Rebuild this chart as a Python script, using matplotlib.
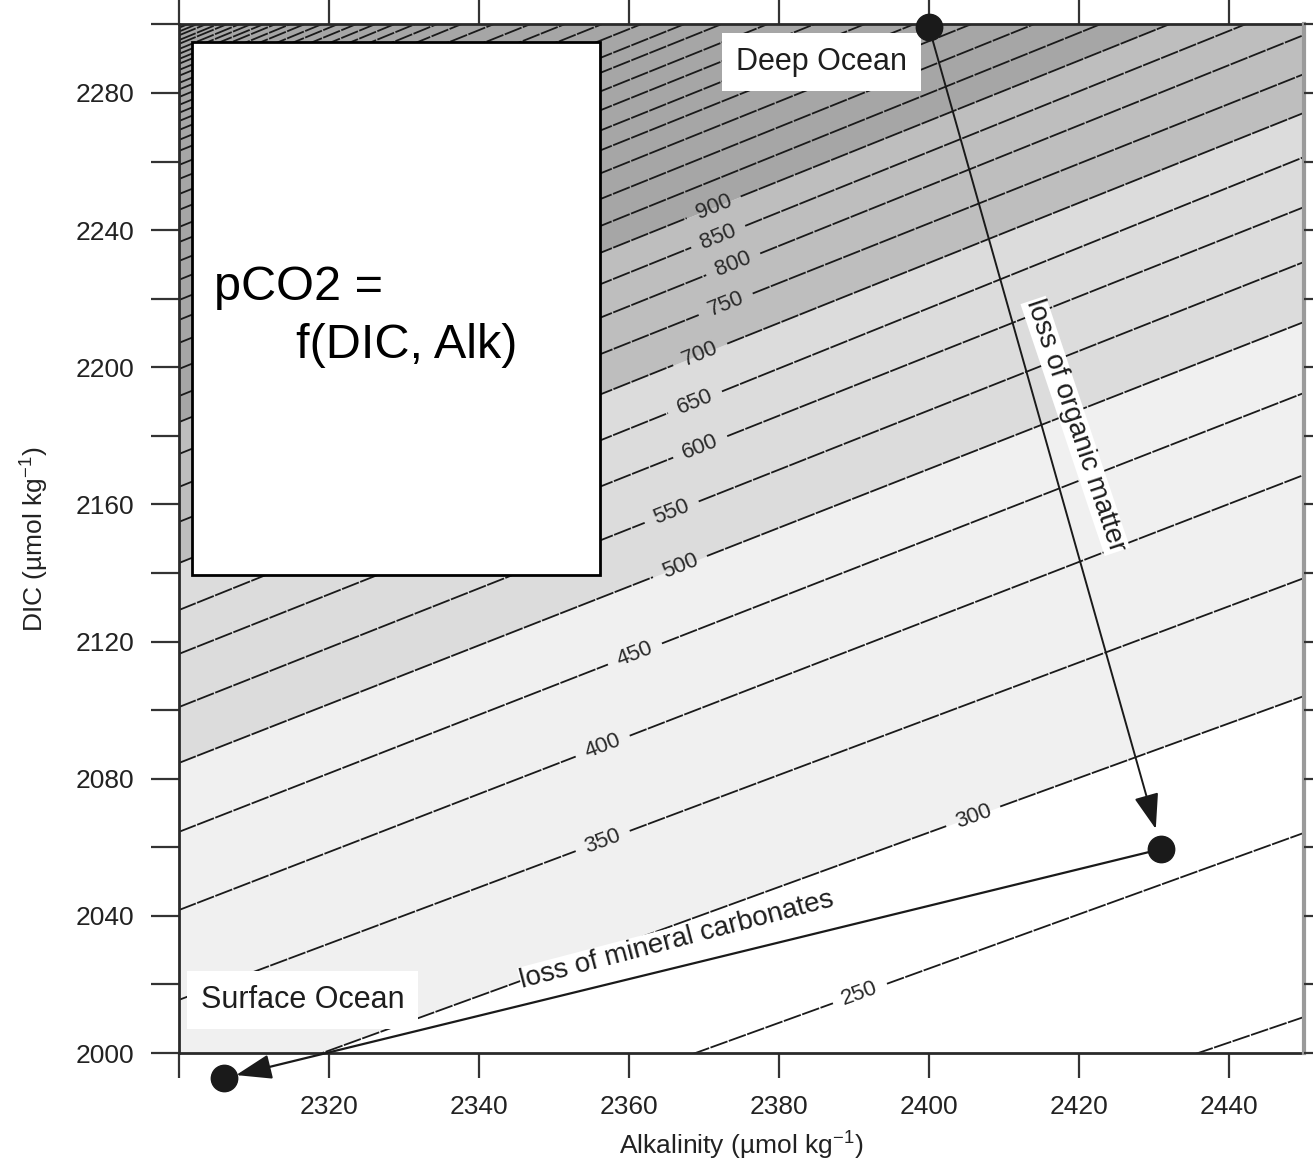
import numpy as np
import matplotlib.pyplot as plt
from matplotlib.patches import Rectangle

plt.rcParams["font.family"] = ["Liberation Sans", "DejaVu Sans"]
plt.rcParams["mathtext.fontset"] = "custom"
plt.rcParams["mathtext.rm"] = "Liberation Sans"
plt.rcParams["mathtext.default"] = "regular"

# pCO2 isolines: DIC where each line meets Alk = 2300 and Alk = 2450
ALK_EDGES = [2300, 2450]
LEVELS = [200, 250, 300, 350, 400, 450, 500, 550, 600, 650, 700, 750, 800, 850, 900,
          950, 1000, 1050, 1100, 1150, 1200, 1250, 1300, 1350, 1400, 1450, 1500, 1550,
          1600, 1650, 1700, 1750, 1800, 1850, 1900, 1950, 2000, 2050, 2100, 2150, 2200,
          2250, 2300, 2350, 2400, 2450, 2500, 2550, 2600, 2650]
DIC_AT_LEFT = [1898.8, 1945.5, 1984.8, 2015.5, 2041.7, 2064.5, 2084.6, 2100.9, 2116.4,
               2129.2, 2142.9, 2154.9, 2165.1, 2174.7, 2184.0, 2191.6, 2199.5, 2207.1,
               2213.8, 2219.6, 2225.5, 2231.0, 2236.5, 2240.9, 2245.9, 2250.5, 2254.9,
               2259.0, 2263.1, 2266.3, 2269.2, 2271.8, 2274.2, 2276.5, 2278.8, 2281.0,
               2282.9, 2285.0, 2286.7, 2288.5, 2289.9, 2291.4, 2292.8, 2294.3, 2295.4,
               2296.8, 2297.9, 2299.0, 2300.1, 2301.3]
DIC_AT_RIGHT = [2010.5, 2064.2, 2104.1, 2138.5, 2168.6, 2192.5, 2213.2, 2230.7, 2246.7,
                2261.3, 2274.2, 2285.5, 2296.9, 2306.9, 2315.8, 2324.0, 2331.8, 2339.1,
                2345.8, 2351.6, 2357.5, 2363.0, 2368.3, 2372.6, 2377.7, 2382.3, 2386.6,
                2390.5, 2395.2, 2400.8, 2403.8, 2406.5, 2409.2, 2411.6, 2413.8, 2416.0,
                2418.0, 2419.9, 2421.7, 2423.4, 2424.9, 2426.5, 2427.9, 2429.2, 2430.5,
                2431.7, 2432.9, 2434.0, 2435.1, 2436.0]

# shaded bands (lower / upper isoline)
BAND_LOW = [300, 500, 700, 900]
BAND_HIGH = [500, 700, 900, 2650]
BAND_COLORS = ["#f0f0f0", "#dcdcdc", "#bebebe", "#a6a6a6"]

# inline labels: level and alkalinity of the label centre
LABEL_LEVELS = [250, 300, 350, 400, 450, 500, 550, 600, 650, 700, 750, 800, 850, 900]
LABEL_ALK = [2390.8, 2405.9, 2356.5, 2356.5, 2360.8, 2366.8, 2365.7, 2369.5, 2368.8,
             2369.5, 2372.9, 2373.9, 2371.9, 2371.3]

# deep ocean -> after organic matter loss -> surface ocean
POINT_ALK = [2400.0, 2431.0, 2306.0]
POINT_DIC = [2299.2, 2059.5, 1992.7]

X_TICKS = [2300, 2320, 2340, 2360, 2380, 2400, 2420, 2440]
X_TICK_LABELS = ["", "2320", "2340", "2360", "2380", "2400", "2420", "2440"]
Y_TICKS = [2000, 2020, 2040, 2060, 2080, 2100, 2120, 2140, 2160, 2180, 2200, 2220,
           2240, 2260, 2280, 2300]
Y_TICK_LABELS = ["2000", "", "2040", "", "2080", "", "2120", "", "2160", "", "2200", "",
                 "2240", "", "2280", ""]

INK = "#1a1a1a"

fig = plt.figure(figsize=(13.13, 11.66), dpi=100)
ax = fig.add_axes([0.1363, 0.0969, 0.8568, 0.8822])
ax.set_xlim(2300, 2450)
ax.set_ylim(2000, 2300)


def line_of(level):
    i = LEVELS.index(level)
    return [DIC_AT_LEFT[i], DIC_AT_RIGHT[i]]


for low, high, color in zip(BAND_LOW, BAND_HIGH, BAND_COLORS):
    ax.fill_between(ALK_EDGES, line_of(low), line_of(high), color=color, lw=0, zorder=1)

labels = dict(zip(LABEL_LEVELS, LABEL_ALK))
gap = 3.6
line_kw = dict(color=INK, lw=1.3, dashes=(10, 0.8), zorder=2)
for lev in LEVELS:
    ys = line_of(lev)
    if lev not in labels:
        ax.plot(ALK_EDGES, ys, **line_kw)
        continue
    xl = labels[lev]
    yl = np.interp(xl, ALK_EDGES, ys)
    for xa, xb in [(ALK_EDGES[0], xl - gap), (xl + gap, ALK_EDGES[1])]:
        ax.plot([xa, xb], np.interp([xa, xb], ALK_EDGES, ys), **line_kw)
    p0, p1 = ax.transData.transform([(ALK_EDGES[0], ys[0]), (ALK_EDGES[1], ys[1])])
    ang = np.degrees(np.arctan2(p1[1] - p0[1], p1[0] - p0[0]))
    ax.text(xl, yl, str(lev), rotation=ang, rotation_mode="anchor", ha="center",
            va="center", fontsize=16, color="#2a2a2a", zorder=3)

# inset box with the relation
ax.add_patch(Rectangle((0.0116, 0.4647), 0.3626, 0.5183, transform=ax.transAxes,
                       fc="white", ec="black", lw=2, zorder=4))
ax.text(0.031, 0.732, "pCO2 =", transform=ax.transAxes, fontsize=35, va="baseline",
        color="black", zorder=5)
ax.text(0.104, 0.676, "f(DIC, Alk)", transform=ax.transAxes, fontsize=35, va="baseline",
        color="black", zorder=5)

# pathway
ax.annotate("", xy=(POINT_ALK[1], POINT_DIC[1]), xytext=(POINT_ALK[0], POINT_DIC[0]),
            arrowprops=dict(arrowstyle="-|>,head_length=1.0,head_width=0.35", color=INK,
                            lw=1.4, shrinkA=0, shrinkB=15, mutation_scale=22),
            annotation_clip=False, zorder=5)
ax.annotate("", xy=(POINT_ALK[2], POINT_DIC[2]), xytext=(POINT_ALK[1], POINT_DIC[1]),
            arrowprops=dict(arrowstyle="-|>,head_length=1.0,head_width=0.35", color=INK,
                            lw=1.6, shrinkA=0, shrinkB=9, mutation_scale=22),
            annotation_clip=False, zorder=5)
ax.plot(POINT_ALK, POINT_DIC, "o", ms=19, color=INK, linestyle="none", clip_on=False,
        zorder=6)

box = dict(boxstyle="square,pad=0.45", fc="white", ec="none")
ax.text(2385.7, 2289.0, "Deep Ocean", fontsize=22, color="#1e1e1e", ha="center",
        va="center", bbox=box, zorder=5)
ax.text(2316.5, 2015.5, "Surface Ocean", fontsize=22, color="#1e1e1e", ha="center",
        va="center", bbox=box, zorder=5)
ax.text(2419.5, 2182.9, "loss of organic matter", fontsize=20, color="#1e1e1e",
        rotation=-71.5, rotation_mode="anchor", ha="center", va="center",
        bbox=dict(fc="white", ec="none", pad=0.3), zorder=5)
ax.text(2366.4, 2033.0, "loss of mineral carbonates", fontsize=20, color="#1e1e1e",
        rotation=14.7, rotation_mode="anchor", ha="center", va="center",
        bbox=dict(fc="white", ec="none", pad=0.3), zorder=5)

ax.set_xticks(X_TICKS)
ax.set_xticklabels(X_TICK_LABELS)
ax.set_yticks(Y_TICKS)
ax.set_yticklabels(Y_TICK_LABELS)
ax.tick_params(axis="x", direction="out", length=18, width=1.6, color="#333333",
               labelsize=19, labelcolor="#222222", pad=12, top=True)
ax.tick_params(axis="y", direction="out", length=20, width=1.6, color="#333333",
               labelsize=19, labelcolor="#222222", pad=12)
for side in ["left", "bottom", "top"]:
    ax.spines[side].set_linewidth(2)
    ax.spines[side].set_color("#2a2a2a")
ax.spines["right"].set_linewidth(3)
ax.spines["right"].set_color("#9a9a9a")
ax.spines["right"].set_zorder(7)

right = ax.secondary_yaxis("right")
right.set_yticks(Y_TICKS)
right.tick_params(direction="out", length=8, width=1.6, color="#333333", labelright=False)
right.spines["right"].set_visible(False)
right.set_zorder(8)

ax.set_xlabel("Alkalinity (µmol kg$^{-1}$)", fontsize=19, color="#222222", labelpad=8)
ax.set_ylabel("DIC (µmol kg$^{-1}$)", fontsize=19, color="#222222", labelpad=18)

fig.savefig("out.png", dpi=100)
